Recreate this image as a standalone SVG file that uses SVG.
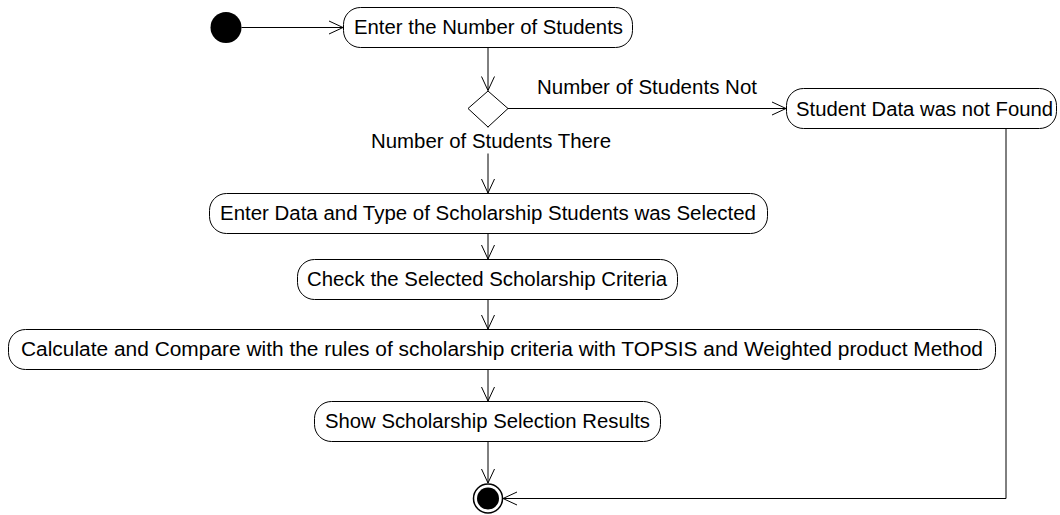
<svg xmlns="http://www.w3.org/2000/svg" width="1060" height="515" viewBox="0 0 1060 515">
  <defs>
    <marker id="open" markerUnits="userSpaceOnUse" markerWidth="16" markerHeight="16" viewBox="0 0 16 16" refX="15" refY="8" orient="auto">
      <path d="M1,1.5 L15,8 L1,14.5" fill="none" stroke="#000" stroke-width="1"/>
    </marker>
  </defs>
  <style>
    .act { fill: #fff; stroke: #000; stroke-width: 1; }
    .lbl { font-family: "Liberation Sans", Arial, sans-serif; font-size: 20px; fill: #000; }
    .edge { fill: none; stroke: #000; stroke-width: 1; }
  </style>
  <rect x="0" y="0" width="1060" height="515" fill="#fff"/>

  <g id="connectors">
    <line class="edge" x1="241.5" y1="27.5" x2="343" y2="27.5" marker-end="url(#open)"/>
    <line class="edge" x1="488" y1="47" x2="488" y2="90.5" marker-end="url(#open)"/>
    <line class="edge" x1="508" y1="108.5" x2="786" y2="108.5" marker-end="url(#open)"/>
    <line class="edge" x1="488" y1="127" x2="488" y2="193" marker-end="url(#open)"/>
    <line class="edge" x1="488" y1="233" x2="488" y2="259" marker-end="url(#open)"/>
    <line class="edge" x1="488" y1="299" x2="488" y2="329" marker-end="url(#open)"/>
    <line class="edge" x1="488" y1="369" x2="488" y2="401" marker-end="url(#open)"/>
    <line class="edge" x1="488" y1="441" x2="488" y2="483" marker-end="url(#open)"/>
    <polyline class="edge" points="1006,129 1006,498.5 503,498.5" marker-end="url(#open)"/>
    <text class="lbl" x="537" y="94" textLength="220" lengthAdjust="spacingAndGlyphs">Number of Students Not</text>
    <rect x="369" y="127.5" width="244" height="26" fill="#fff"/>
    <text class="lbl" x="371" y="148" textLength="240" lengthAdjust="spacingAndGlyphs">Number of Students There</text>
  </g>

  <g id="start">
    <circle cx="226" cy="27.5" r="15.5" fill="#000"/>
  </g>

  <g id="enter-number">
    <rect class="act" x="343.5" y="7.5" width="289" height="40" rx="17" ry="17"/>
    <text class="lbl" x="354" y="34" textLength="269" lengthAdjust="spacingAndGlyphs">Enter the Number of Students</text>
  </g>

  <g id="decision">
    <polygon class="act" points="488,91 508,108.5 488,127 468,108.5"/>
  </g>

  <g id="not-found">
    <rect class="act" x="786.5" y="88.5" width="270" height="40" rx="17" ry="17"/>
    <text class="lbl" x="796" y="115.5" textLength="257" lengthAdjust="spacingAndGlyphs">Student Data was not Found</text>
  </g>

  <g id="enter-data">
    <rect class="act" x="209.5" y="193.5" width="558" height="40" rx="17" ry="17"/>
    <text class="lbl" x="220" y="220" textLength="536" lengthAdjust="spacingAndGlyphs">Enter Data and Type of Scholarship Students was Selected</text>
  </g>

  <g id="check">
    <rect class="act" x="297.5" y="259.5" width="380" height="40" rx="17" ry="17"/>
    <text class="lbl" x="307" y="286" textLength="360" lengthAdjust="spacingAndGlyphs">Check the Selected Scholarship Criteria</text>
  </g>

  <g id="calculate">
    <rect class="act" x="8.5" y="329.5" width="987" height="40" rx="17" ry="17"/>
    <text class="lbl" x="21" y="356" textLength="962" lengthAdjust="spacingAndGlyphs">Calculate and Compare with the rules of scholarship criteria with TOPSIS and Weighted product Method</text>
  </g>

  <g id="show">
    <rect class="act" x="314.5" y="401.5" width="346" height="40" rx="17" ry="17"/>
    <text class="lbl" x="325" y="428" textLength="325" lengthAdjust="spacingAndGlyphs">Show Scholarship Selection Results</text>
  </g>

  <g id="end">
    <circle cx="488" cy="498.5" r="14.5" fill="#fff" stroke="#000" stroke-width="1.5"/>
    <circle cx="488" cy="498.5" r="11" fill="#000"/>
  </g>
</svg>
